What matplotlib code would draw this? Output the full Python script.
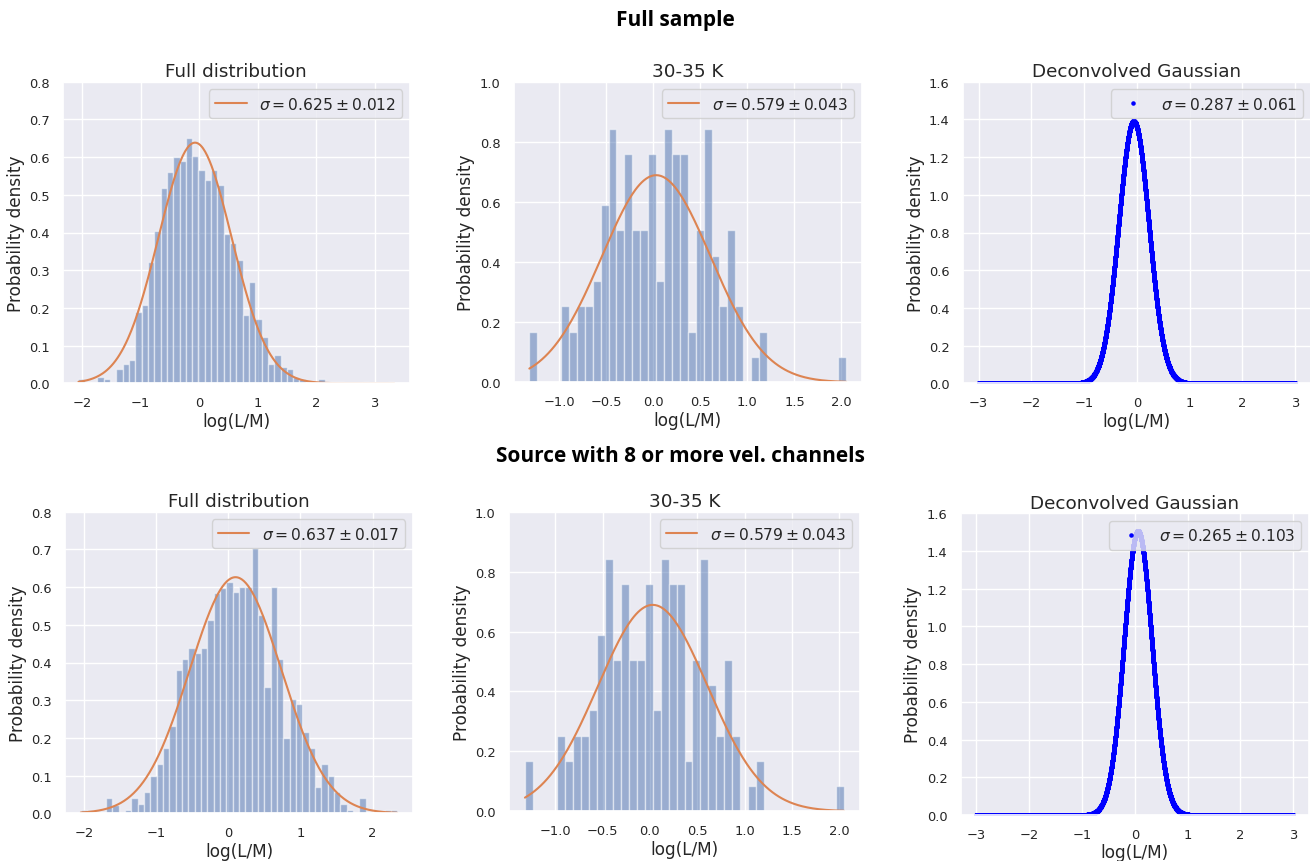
import matplotlib as mpl
mpl.use('Agg')
import numpy as np
import matplotlib.pyplot as plt
import seaborn as sns

sns.set_theme(style='darkgrid')
plt.rcParams.update({
    'font.family': ['DejaVu Sans'],
    'xtick.labelsize': 9.4,
    'ytick.labelsize': 9.4,
    'axes.labelsize': 12.2,
    'axes.titlesize': 13.2,
    'legend.fontsize': 11.2,
})

# full sample, full distribution (50 bins, density)
full_lo, full_hi = -2.0625, 3.335
full_dens = [0.011, 0.004, 0.004, 0.016, 0.011, 0.0, 0.038, 0.050, 0.063, 0.188,
             0.208, 0.321, 0.405, 0.519, 0.560, 0.600, 0.590, 0.650, 0.604, 0.566,
             0.539, 0.566, 0.526, 0.396, 0.372, 0.327, 0.181, 0.270, 0.171, 0.124,
             0.050, 0.076, 0.042, 0.038, 0.016, 0.011, 0.004, 0.004, 0.011, 0.004,
             0.004, 0.004, 0.0, 0.0, 0.0, 0.004, 0.0, 0.0, 0.0, 0.004]
full_fit = (-0.07, 0.625, 0.012)

# sources with 8 or more vel. channels, full distribution (50 bins, density)
sub_lo, sub_hi = -2.046, 2.342
sub_dens = [0.010, 0.010, 0.0, 0.0, 0.040, 0.022, 0.0, 0.010, 0.040, 0.025,
            0.056, 0.100, 0.130, 0.172, 0.232, 0.380, 0.409, 0.438, 0.425, 0.439,
            0.512, 0.585, 0.598, 0.613, 0.587, 0.600, 0.600, 0.703, 0.527, 0.334,
            0.600, 0.409, 0.201, 0.304, 0.291, 0.216, 0.172, 0.069, 0.130, 0.100,
            0.056, 0.025, 0.010, 0.0, 0.040, 0.0, 0.0, 0.0, 0.010, 0.010]
sub_fit = (0.10, 0.637, 0.017)

# 30-35 K (40 bins, counts) - same in both rows
k_lo, k_hi = -1.319, 2.05
k_counts = [2, 0, 0, 0, 3, 2, 3, 3, 4, 7,
            10, 6, 9, 6, 6, 9, 4, 10, 9, 9,
            2, 6, 10, 5, 3, 6, 3, 0, 1, 2,
            0, 0, 0, 0, 0, 0, 0, 0, 0, 1]
k_fit = (0.03, 0.579, 0.043)

# deconvolved gaussians (mu, sigma, err)
dec_top = (-0.06, 0.287, 0.061)
dec_bot = (0.06, 0.265, 0.103)


def gauss(x, mu, sig):
    return np.exp(-0.5 * ((x - mu) / sig) ** 2) / (sig * np.sqrt(2 * np.pi))


def labels(ax, title):
    ax.set_title(title, pad=4)
    ax.set_xlabel('log(L/M)', labelpad=1.5)
    ax.set_ylabel('Probability density', labelpad=3)
    ax.legend(loc='upper right')


def hist_panel(ax, lo, hi, vals, fit, title, ymax, density=False):
    edges = np.linspace(lo, hi, len(vals) + 1)
    ax.hist(edges[:-1], bins=edges, weights=vals, density=density, alpha=0.5, color='C0')
    mu, sig, err = fit
    xx = np.linspace(lo, hi, 300)
    ax.plot(xx, gauss(xx, mu, sig), color='C1',
            label=r'$\sigma = %.3f \pm %.3f$' % (sig, err))
    ax.set_ylim(0, ymax)
    labels(ax, title)


def dec_panel(ax, fit):
    mu, sig, err = fit
    xx = np.linspace(-3, 3, 10000)
    ax.plot(xx, gauss(xx, mu, sig), linestyle='none', marker='.', markersize=4.5,
            color='#0000ff', label=r'$\sigma = %.3f \pm %.3f$' % (sig, err))
    ax.set_ylim(0, 1.6)
    labels(ax, 'Deconvolved Gaussian')


W, H = 1310, 862
fig = plt.figure(figsize=(W / 100, H / 100), dpi=100)


def box(l, r, t, b):
    return [l / W, (H - b) / H, (r - l) / W, (b - t) / H]


ax1 = fig.add_axes(box(62.7, 410, 82.7, 384.3))
ax2 = fig.add_axes(box(513.5, 862, 82.7, 383.3))
ax3 = fig.add_axes(box(962.8, 1311, 82.7, 384.3))
ax4 = fig.add_axes(box(65, 413, 512.7, 814.3))
ax5 = fig.add_axes(box(509, 860, 512.7, 812.3))
ax6 = fig.add_axes(box(960.5, 1309, 514.3, 816))

hist_panel(ax1, full_lo, full_hi, full_dens, full_fit, 'Full distribution', 0.8)
hist_panel(ax2, k_lo, k_hi, k_counts, k_fit, '30-35 K', 1.0, density=True)
dec_panel(ax3, dec_top)
hist_panel(ax4, sub_lo, sub_hi, sub_dens, sub_fit, 'Full distribution', 0.8)
hist_panel(ax5, k_lo, k_hi, k_counts, k_fit, '30-35 K', 1.0, density=True)
dec_panel(ax6, dec_bot)

fig.text(675.8 / W, 1 - 26 / H, 'Full sample', ha='center', va='baseline',
         fontsize=15, fontweight='bold', family='Open Sans', color='black')
fig.text(680 / W, 1 - 461.7 / H, 'Source with 8 or more vel. channels', ha='center',
         va='baseline', fontsize=15, fontweight='bold', family='Open Sans', color='black')

plt.savefig('out.png', dpi=100)
plt.close()
